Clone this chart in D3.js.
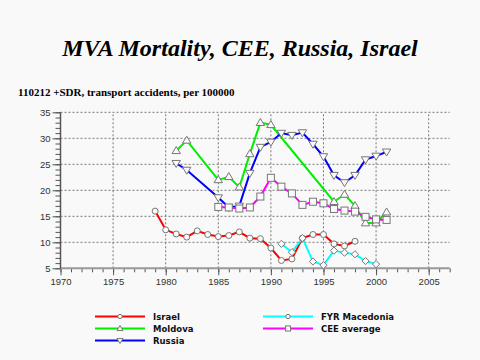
<!DOCTYPE html>
<html><head><meta charset="utf-8">
<script src="https://cdn.jsdelivr.net/npm/d3@7"></script>
<style>
html,body{margin:0;padding:0;background:#f9f9f9;}
svg{display:block;}
</style></head>
<body>
<svg id="c" width="480" height="360"></svg>
<script>
const title = "MVA Mortality, CEE, Russia, Israel";
const subtitle = "110212 +SDR, transport accidents, per 100000";
const xTicks = [1970, 1975, 1980, 1985, 1990, 1995, 2000, 2005];
const yTicks = [5, 10, 15, 20, 25, 30, 35];

const israelYears = [1979,1980,1981,1982,1983,1984,1985,1986,1987,1988,1989,1990,1991,1992,1993,1994,1995,1996,1997,1998];
const israelVals  = [16.0,12.4,11.6,11.0,12.2,11.5,11.1,11.3,12.0,10.8,10.7,8.9,6.5,6.8,10.8,11.5,11.5,9.7,9.3,10.2];

const moldovaYears = [1981,1982,1985,1986,1987,1988,1989,1990,1996,1997,1998,1999,2000,2001];
const moldovaVals  = [27.6,29.6,22.0,22.6,20.6,27.0,33.0,32.6,17.8,19.2,17.0,13.7,13.7,15.8];

const russiaYears = [1981,1982,1985,1986,1987,1988,1989,1990,1991,1992,1993,1994,1995,1996,1997,1998,1999,2000,2001];
const russiaVals  = [25.2,23.9,18.6,16.7,17.0,23.3,28.3,29.3,31.0,30.6,31.1,28.9,26.5,22.9,21.5,22.9,25.9,26.6,27.4];

const macedoniaYears = [1991,1992,1993,1994,1995,1996,1997,1998,1999,2000];
const macedoniaVals  = [9.7,8.1,10.8,6.3,5.6,8.4,8.0,7.7,6.4,5.8];

const ceeYears = [1985,1986,1987,1988,1989,1990,1991,1992,1993,1994,1995,1996,1997,1998,1999,2000,2001];
const ceeVals  = [16.8,16.7,16.5,16.7,18.8,22.4,20.7,19.4,17.2,17.8,17.5,16.4,16.1,15.9,14.9,14.4,14.3];

const series = [
  {name:"Israel", years:israelYears, vals:israelVals, color:"#ff0000", marker:"circle", legMarker:"circle"},
  {name:"Moldova", years:moldovaYears, vals:moldovaVals, color:"#00ee00", marker:"tri", legMarker:"tri"},
  {name:"Russia", years:russiaYears, vals:russiaVals, color:"#0000ff", marker:"tridown", legMarker:"tridown"},
  {name:"FYR Macedonia", years:macedoniaYears, vals:macedoniaVals, color:"#00ffff", marker:"diamond", legMarker:"circle"},
  {name:"CEE average", years:ceeYears, vals:ceeVals, color:"#ff00ff", marker:"square", legMarker:"square"}
];

const svg = d3.select("#c");
const x = d3.scaleLinear().domain([1970, 2007]).range([60.5, 449.7]);
const y = d3.scaleLinear().domain([5, 35]).range([268.3, 112.3]);

svg.append("text").attr("x", 240).attr("y", 56).attr("text-anchor","middle")
  .attr("font-family","'Liberation Serif', 'DejaVu Serif', serif")
  .attr("font-weight","bold").attr("font-style","italic").attr("font-size", 24)
  .attr("fill","#000").text(title);
svg.append("text").attr("x", 18).attr("y", 96)
  .attr("font-family","'Liberation Serif', 'DejaVu Serif', serif")
  .attr("font-weight","bold").attr("font-size", 11).attr("fill","#000").text(subtitle);

// grid
const g = svg.append("g");
g.selectAll(".vg").data(xTicks.filter(d=>d>1970)).enter().append("line")
  .attr("x1", d=>x(d)).attr("x2", d=>x(d)).attr("y1", y(5)).attr("y2", y(35))
  .attr("stroke","#777").attr("stroke-width",1).attr("stroke-dasharray","2,2");
g.selectAll(".hg").data(yTicks.filter(d=>d>5)).enter().append("line")
  .attr("x1", x(1970)).attr("x2", x(2007)).attr("y1", d=>y(d)).attr("y2", d=>y(d))
  .attr("stroke","#777").attr("stroke-width",1).attr("stroke-dasharray","2,2");

// axes
const xAxis = d3.axisBottom(x).tickValues(xTicks).tickFormat(d3.format("d")).tickSize(7).tickPadding(3);
const xMinor = d3.axisBottom(x).tickValues(d3.range(1970, 2008)).tickFormat("").tickSize(4);
const yAxis = d3.axisLeft(y).tickValues(yTicks).tickFormat(d3.format("d")).tickSize(8).tickPadding(2);
const yMinor = d3.axisLeft(y).tickValues(d3.range(5, 36)).tickFormat("").tickSize(5);

const gxm = svg.append("g").attr("transform",`translate(0,${y(5)})`).call(xMinor);
const gx = svg.append("g").attr("transform",`translate(0,${y(5)})`).call(xAxis);
const gym = svg.append("g").attr("transform",`translate(${x(1970)},0)`).call(yMinor);
const gy = svg.append("g").attr("transform",`translate(${x(1970)},0)`).call(yAxis);
[gx,gxm,gy,gym].forEach(a=>{
  a.select(".domain").remove();
  a.selectAll("line").attr("stroke","#555");
  a.selectAll("text").attr("font-family","'Liberation Sans', Arial, sans-serif").attr("font-size",9.5).attr("fill","#333");
});
svg.append("line").attr("x1", x(1970)).attr("x2", x(2007)).attr("y1", y(5)).attr("y2", y(5))
  .attr("stroke","#999").attr("stroke-width",2);
svg.append("line").attr("x1", x(1970)).attr("x2", x(1970)).attr("y1", y(5)).attr("y2", y(35))
  .attr("stroke","#555").attr("stroke-width",1.5);

function drawMarker(sel, type, cx, cy, k){
  k = k || 1;
  let m;
  if(type==="circle"){ m = sel.append("circle").attr("cx",cx).attr("cy",cy).attr("r",3*k); }
  else if(type==="square"){ m = sel.append("rect").attr("x",cx-3.5*k).attr("y",cy-3.5*k).attr("width",7*k).attr("height",7*k); }
  else if(type==="tri"){ m = sel.append("path").attr("d",`M${cx},${cy-4.2*k}L${cx+4.2*k},${cy+2.8*k}L${cx-4.2*k},${cy+2.8*k}Z`); }
  else if(type==="tridown"){ m = sel.append("path").attr("d",`M${cx},${cy+4.2*k}L${cx+4.2*k},${cy-2.8*k}L${cx-4.2*k},${cy-2.8*k}Z`); }
  else if(type==="diamond"){ m = sel.append("path").attr("d",`M${cx},${cy-3.6*k}L${cx+3.6*k},${cy}L${cx},${cy+3.6*k}L${cx-3.6*k},${cy}Z`); }
  m.attr("fill","#fafafa").attr("stroke","#777").attr("stroke-width",1);
}

const line = d3.line().x(d=>x(d[0])).y(d=>y(d[1]));
const order = [0,1,2,4,3];
order.forEach(i=>{
  const s = series[i];
  const pts = s.years.map((yr,j)=>[yr, s.vals[j]]);
  svg.append("path").attr("d", line(pts)).attr("fill","none").attr("stroke", s.color).attr("stroke-width",2);
});
order.forEach(i=>{
  const s = series[i];
  const gm = svg.append("g");
  s.years.forEach((yr,j)=>drawMarker(gm, s.marker, x(yr), y(s.vals[j])));
});

// legend
const legPos = [[95,316.5],[95,328.5],[95,340.5],[263,316.5],[263,328.5]];
series.forEach((s,i)=>{
  const [lx,ly] = legPos[i];
  const lg = svg.append("g");
  lg.append("line").attr("x1",lx).attr("x2",lx+50).attr("y1",ly).attr("y2",ly).attr("stroke",s.color).attr("stroke-width",2);
  drawMarker(lg, s.legMarker, lx+25, ly, 0.72);
  lg.append("text").attr("x", lx+58).attr("y", ly+3.3)
    .attr("font-family","'DejaVu Sans', sans-serif").attr("font-weight","bold").attr("font-size",8.5)
    .attr("fill","#111").text(s.name);
});
</script>
</body></html>
